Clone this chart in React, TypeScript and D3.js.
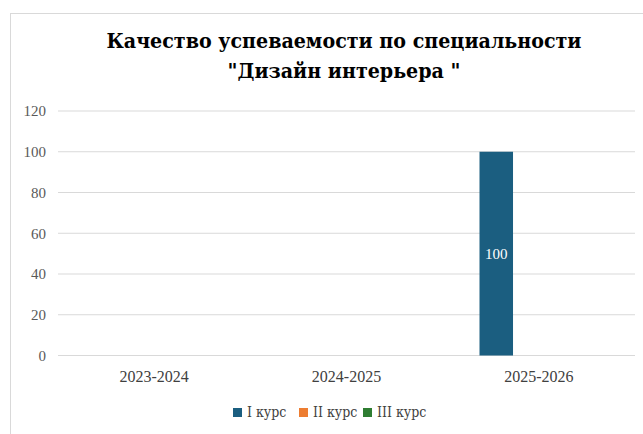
import { useMemo } from 'react';
import * as d3 from 'd3';

const categories = ['2023-2024', '2024-2025', '2025-2026'];
const seriesNames = ['I курс', 'II курс', 'III курс'];
const seriesColors = ['#1b5e80', '#ed7d31', '#2e7d32'];
// null = no value in the sheet
const kurs1 = [null, null, 100];
const kurs2 = [null, null, null];
const kurs3 = [null, null, null];
const yTicks = [0, 20, 40, 60, 80, 100, 120];
const titleLines = ['Качество успеваемости по специальности', '"Дизайн интерьера "'];

const seriesValues: (number | null)[][] = [kurs1, kurs2, kurs3];

export default function App(): React.ReactNode {
  const width = 643;
  const height = 434;
  const plot = { left: 58, right: 635, top: 111, bottom: 355.5 };
  const serif = '"Liberation Serif", "Times New Roman", serif';
  const cyr = '"DejaVu Serif Condensed", "DejaVu Serif", serif';

  const { x0, x1, y } = useMemo(() => {
    const x0 = d3
      .scaleBand<string>()
      .domain(categories)
      .range([plot.left, plot.right])
      .paddingInner(0.383)
      .paddingOuter(0.383 / 2);
    const x1 = d3
      .scaleBand<string>()
      .domain(seriesNames)
      .range([0, x0.bandwidth()])
      .paddingInner(0.2126)
      .paddingOuter(0);
    const y = d3.scaleLinear().domain([0, 120]).range([plot.bottom, plot.top]);
    return { x0, x1, y };
  }, [plot.left, plot.right, plot.top, plot.bottom]);

  // legend layout
  const legendX = [233, 299, 363];

  return (
    <svg
      width={width}
      height={height}
      style={{ position: 'absolute', left: 0, top: 0, background: '#fff' }}
      fontFamily={serif}
    >
      <rect x={10.5} y={13.5} width={700} height={500} fill="#fff" stroke="#d9d9d9" />

      {titleLines.map((t, i) => (
        <text
          key={t}
          x={344}
          y={48 + i * 30}
          textAnchor="middle"
          fontSize={21.2}
          fontWeight="bold"
          fontFamily={cyr}
          fill="#000"
        >
          {t}
        </text>
      ))}

      {yTicks.map((t) => (
        <g key={t}>
          <line x1={plot.left} x2={plot.right} y1={y(t)} y2={y(t)} stroke="#d9d9d9" />
          <text
            x={46}
            y={y(t)}
            dy="0.35em"
            textAnchor="end"
            fontSize={15}
            fill="#595959"
          >
            {t}
          </text>
        </g>
      ))}

      {categories.map((c, ci) => (
        <g key={c}>
          {seriesNames.map((s, si) => {
            const v = seriesValues[si][ci];
            if (v === null) return null;
            const bx = (x0(c) ?? 0) + (x1(s) ?? 0);
            return (
              <g key={s}>
                <rect
                  x={bx}
                  y={y(v)}
                  width={x1.bandwidth()}
                  height={y(0) - y(v)}
                  fill={seriesColors[si]}
                />
                <text
                  x={bx + x1.bandwidth() / 2}
                  y={(y(v) + y(0)) / 2}
                  dy="0.35em"
                  textAnchor="middle"
                  fontSize={15}
                  fill="#fff"
                >
                  {v}
                </text>
              </g>
            );
          })}
          <text
            x={(x0(c) ?? 0) + x0.bandwidth() / 2}
            y={381.5}
            textAnchor="middle"
            fontSize={16}
            fill="#404040"
          >
            {c}
          </text>
        </g>
      ))}

      {seriesNames.map((s, i) => (
        <g key={s} transform={`translate(${legendX[i]},408)`}>
          <rect width={9} height={9} fill={seriesColors[i]} />
          <text x={14} y={4.5} dy="0.35em" fontSize={14} fontFamily={cyr} fill="#404040">
            {s}
          </text>
        </g>
      ))}
    </svg>
  );
}
